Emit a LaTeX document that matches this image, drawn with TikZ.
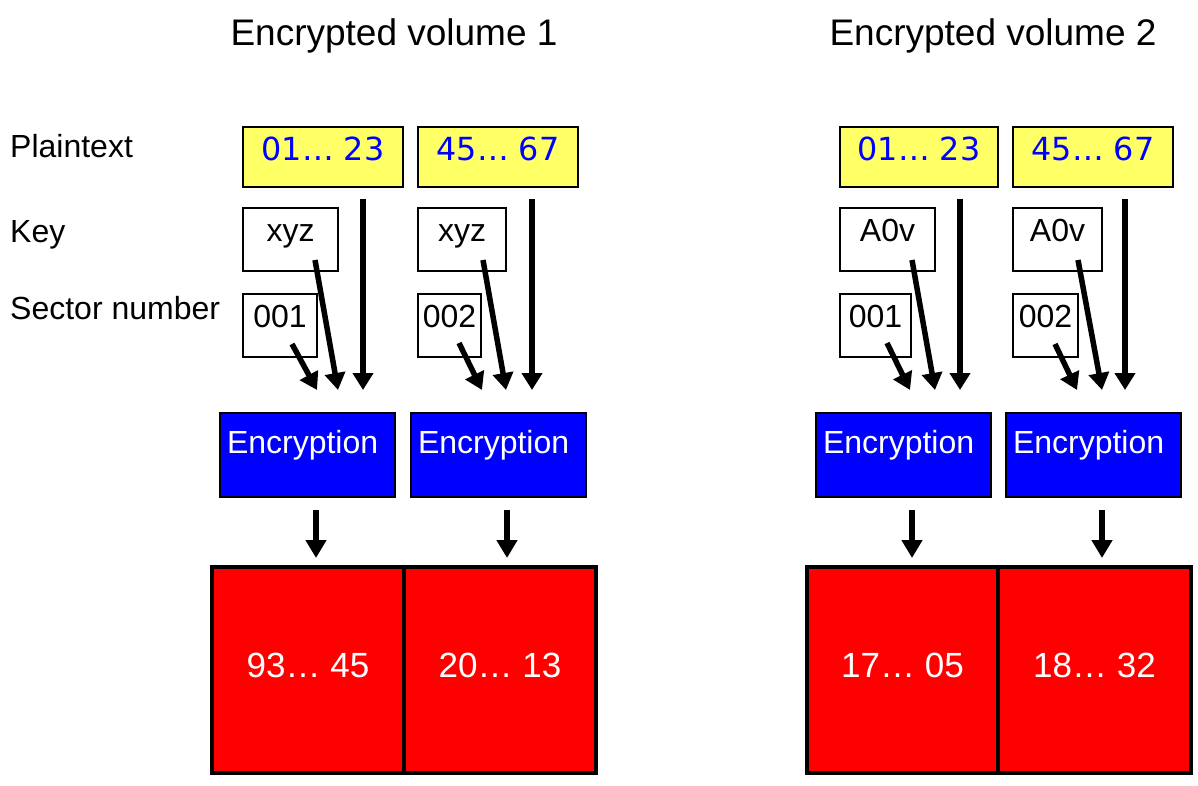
\documentclass[tikz,border=0pt]{standalone}
\usepackage{fontspec}
\setmainfont{Liberation Sans}
\newfontfamily\dvfont{DejaVu Sans}
\usetikzlibrary{arrows.meta}
\definecolor{ptyellow}{RGB}{255,255,102}
\definecolor{encblue}{RGB}{0,0,255}
\definecolor{cipherred}{RGB}{255,0,0}
\tikzset{
  lbl/.style={anchor=base west, inner sep=0pt, font=\fontsize{32}{36}\selectfont},
  ttl/.style={anchor=base, inner sep=0pt, font=\fontsize{37}{42}\selectfont},
  ptbox/.style={draw, line width=1.8pt, fill=ptyellow, text=encblue, inner sep=0pt,
    text height=34pt, text depth=26pt, font=\dvfont\fontsize{31.8}{36}\selectfont},
  keybox/.style={draw, line width=1.6pt, fill=white, inner sep=0pt,
    text height=34pt, text depth=29pt, font=\fontsize{32}{36}\selectfont},
  secbox/.style={draw, line width=1.6pt, fill=white, inner sep=0pt,
    text height=33pt, text depth=30pt, font=\fontsize{32}{36}\selectfont},
  encbox/.style={draw, line width=1.8pt, fill=encblue, text=white, inner xsep=7pt, inner ysep=0pt,
    text width=161pt, align=left, text height=40pt, text depth=44pt, font=\fontsize{32}{36}\selectfont},
  cbox/.style={draw, line width=4.5pt, fill=cipherred, text=white, inner sep=0pt,
    text height=110pt, text depth=96pt, font=\fontsize{35}{42}\selectfont},
  arr/.style={line width=5.5pt, -{Triangle[width=20pt,length=17pt]}},
  darr/.style={line width=6pt, -{Triangle[width=20pt,length=18pt]}}
}
\begin{document}
\begin{tikzpicture}[x=1pt,y=-1pt]
\useasboundingbox[fill=white] (0,0) rectangle (1198,786);

% titles and row labels
\node[ttl] (t1) at (394,46) {Encrypted volume 1};
\node[ttl] (t2) at (993,46) {Encrypted volume 2};
\node[lbl] (lp) at (10,158) {Plaintext};
\node[lbl] (lk) at (10,243) {Key};
\node[lbl] (ls) at (10,319) {Sector number};

% ---------- volume 1 ----------
\node[ptbox, minimum width=160pt] (p11) at (323,157) {01… 23};
\node[ptbox, minimum width=160pt] (p12) at (498,157) {45… 67};
\node[keybox, minimum width=95pt] (k11) at (290.5,239.5) {xyz};
\node[keybox, minimum width=88pt] (k12) at (462,239.5) {xyz};
\node[secbox, minimum width=74pt] (s11) at (280,325.5) {001};
\node[secbox, minimum width=63pt] (s12) at (449.5,325.5) {002};
\node[encbox] (e11) at (307.5,455) {Encryption};
\node[encbox] (e12) at (498.5,455) {Encryption};
\node[cbox, minimum width=192pt] (c11) at (308,670) {93… 45};
\node[cbox, minimum width=192pt] (c12) at (500,670) {20… 13};

% ---------- volume 2 ----------
\node[ptbox, minimum width=158pt] (p21) at (919,157) {01… 23};
\node[ptbox, minimum width=160pt] (p22) at (1093,157) {45… 67};
\node[keybox, minimum width=95pt] (k21) at (887.5,239.5) {A0v};
\node[keybox, minimum width=89pt] (k22) at (1057.5,239.5) {A0v};
\node[secbox, minimum width=71pt] (s21) at (875.5,325.5) {001};
\node[secbox, minimum width=65pt] (s22) at (1045.5,325.5) {002};
\node[encbox] (e21) at (903.5,455) {Encryption};
\node[encbox] (e22) at (1093.5,455) {Encryption};
\node[cbox, minimum width=191pt] (c21) at (902.5,670) {17… 05};
\node[cbox, minimum width=193pt] (c22) at (1094.5,670) {18… 32};

% arrow end points (free ends)
\coordinate (pa11) at (363,199);  \coordinate (pe11) at (363,390);
\coordinate (ka11) at (315,260);  \coordinate (ke11) at (338,390);
\coordinate (sa11) at (292,344);  \coordinate (se11) at (317,390);
\coordinate (da11) at (316,510);  \coordinate (de11) at (316,558);

\coordinate (pa12) at (532,199);  \coordinate (pe12) at (532,390);
\coordinate (ka12) at (483,260);  \coordinate (ke12) at (506,390);
\coordinate (sa12) at (459,343);  \coordinate (se12) at (482,390);
\coordinate (da12) at (507,510);  \coordinate (de12) at (507,558);

\coordinate (pa21) at (960,199);  \coordinate (pe21) at (960,390);
\coordinate (ka21) at (912,260);  \coordinate (ke21) at (935,390);
\coordinate (sa21) at (887,343);  \coordinate (se21) at (910,390);
\coordinate (da21) at (912,510);  \coordinate (de21) at (912,558);

\coordinate (pa22) at (1125,199); \coordinate (pe22) at (1125,390);
\coordinate (ka22) at (1078,260); \coordinate (ke22) at (1102,390);
\coordinate (sa22) at (1055,344); \coordinate (se22) at (1077,390);
\coordinate (da22) at (1102,510); \coordinate (de22) at (1102,558);

\foreach \c in {11,12,21,22}{
  \draw[arr] (pa\c) -- (pe\c);
  \draw[arr] (ka\c) -- (ke\c);
  \draw[arr] (sa\c) -- (se\c);
  \draw[darr] (da\c) -- (de\c);
}
\end{tikzpicture}
\end{document}
